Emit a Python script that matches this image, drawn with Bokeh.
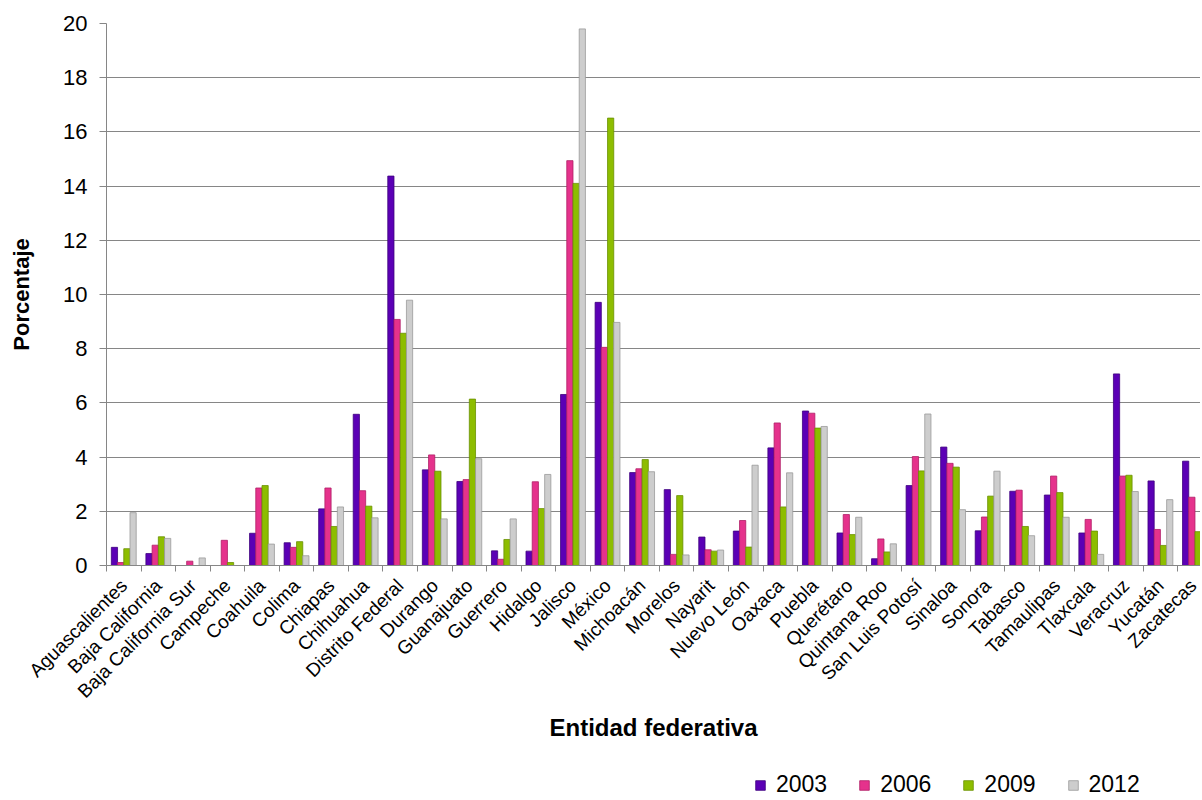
from bokeh.plotting import figure
from bokeh.layouts import column
from bokeh.models import Legend, LegendItem, FixedTicker, Range1d, ColumnDataSource
from bokeh.transform import dodge
from bokeh.embed import file_html
from bokeh.resources import INLINE

states = ["Aguascalientes", "Baja California", "Baja California Sur", "Campeche",
          "Coahuila", "Colima", "Chiapas", "Chihuahua", "Distrito Federal", "Durango",
          "Guanajuato", "Guerrero", "Hidalgo", "Jalisco", "México", "Michoacán",
          "Morelos", "Nayarit", "Nuevo León", "Oaxaca", "Puebla", "Querétaro",
          "Quintana Roo", "San Luis Potosí", "Sinaloa", "Sonora", "Tabasco",
          "Tamaulipas", "Tlaxcala", "Veracruz", "Yucatán", "Zacatecas"]

v2003 = [0.67, 0.44, 0.0, 0.0, 1.19, 0.84, 2.09, 5.58, 14.37, 3.53, 3.10, 0.54, 0.53,
         6.31, 9.71, 3.43, 2.80, 1.05, 1.27, 4.34, 5.70, 1.20, 0.25, 2.95, 4.37, 1.28,
         2.74, 2.60, 1.20, 7.07, 3.12, 3.85]
v2006 = [0.11, 0.75, 0.16, 0.93, 2.86, 0.67, 2.86, 2.76, 9.08, 4.08, 3.17, 0.23, 3.09,
         14.94, 8.05, 3.57, 0.41, 0.58, 1.66, 5.26, 5.62, 1.88, 0.98, 4.02, 3.77, 1.79,
         2.78, 3.30, 1.70, 3.30, 1.33, 2.52]
v2009 = [0.62, 1.06, 0.0, 0.11, 2.95, 0.88, 1.44, 2.19, 8.57, 3.48, 6.14, 0.96, 2.10,
         14.10, 16.51, 3.91, 2.58, 0.53, 0.68, 2.16, 5.07, 1.14, 0.50, 3.49, 3.63, 2.56,
         1.44, 2.69, 1.27, 3.33, 0.74, 1.25]
v2012 = [1.95, 1.00, 0.28, 0.0, 0.79, 0.36, 2.16, 1.76, 9.79, 1.72, 3.94, 1.72, 3.36,
         19.80, 8.97, 3.46, 0.39, 0.57, 3.70, 3.42, 5.13, 1.78, 0.80, 5.59, 2.06, 3.48,
         1.10, 1.78, 0.41, 2.73, 2.43, 1.25]

years = ["2003", "2006", "2009", "2012"]
y_ticks = [0, 2, 4, 6, 8, 10, 12, 14, 16, 18, 20]

fills = ["#5B00B5", "#E5328C", "#8DBD00", "#CDCDCD"]
edges = ["#3E007E", "#B01E66", "#6A9000", "#9A9A9A"]
offsets = [-0.27, -0.09, 0.09, 0.27]

xs = list(range(len(states)))
src = ColumnDataSource(dict(x=xs, y2003=v2003, y2006=v2006, y2009=v2009, y2012=v2012))

FONT = "Liberation Sans"
GRID = "#868686"

p = figure(width=1200, height=768, output_backend="svg", toolbar_location=None,
           x_range=Range1d(-0.5, 31.16), y_range=Range1d(0, 20),
           min_border_left=106, min_border_right=0, min_border_top=23,
           min_border_bottom=203)
p.outline_line_color = None
p.background_fill_color = "white"
p.border_fill_color = "white"

for yr, f, e, off in zip(years, fills, edges, offsets):
    p.vbar(x=dodge("x", off, range=p.x_range), top="y" + yr, width=0.18,
           bottom=0, source=src, fill_color=f, line_color=e, line_width=0.8)

# grid
p.xgrid.visible = False
p.ygrid.grid_line_color = GRID
p.ygrid.grid_line_width = 1
p.ygrid.ticker = FixedTicker(ticks=y_ticks)

# y axis
p.yaxis.ticker = FixedTicker(ticks=y_ticks)
p.yaxis.axis_line_color = GRID
p.yaxis.major_tick_line_color = GRID
p.yaxis.major_tick_out = 7
p.yaxis.major_tick_in = 0
p.yaxis.minor_tick_line_color = None
p.yaxis.major_label_standoff = 12
p.yaxis.major_label_text_font = FONT
p.yaxis.major_label_text_font_size = "22px"
p.yaxis.major_label_text_color = "black"
p.yaxis.axis_label = "Porcentaje"
p.yaxis.axis_label_text_font = FONT
p.yaxis.axis_label_text_font_size = "22px"
p.yaxis.axis_label_text_font_style = "bold"
p.yaxis.axis_label_text_color = "black"
p.yaxis.axis_label_standoff = 26

# x axis
p.xaxis.ticker = FixedTicker(ticks=xs, minor_ticks=[i - 0.5 for i in range(len(states) + 1)])
p.xaxis.major_label_overrides = {i: s for i, s in enumerate(states)}
p.xaxis.axis_line_color = GRID
p.xaxis.major_tick_line_color = None
p.xaxis.major_tick_out = 0
p.xaxis.major_tick_in = 0
p.xaxis.minor_tick_line_color = GRID
p.xaxis.minor_tick_out = 6
p.xaxis.minor_tick_in = 0
p.xaxis.major_label_orientation = 0.785398
p.xaxis.major_label_standoff = 11
p.xaxis.major_label_text_font = FONT
p.xaxis.major_label_text_font_size = "19px"
p.xaxis.major_label_text_color = "black"
p.xaxis.axis_label = "Entidad federativa"
p.xaxis.axis_label_text_font = FONT
p.xaxis.axis_label_text_font_size = "24px"
p.xaxis.axis_label_text_font_style = "bold"
p.xaxis.axis_label_text_color = "black"
p.xaxis.axis_label_standoff = 2

# legend strip (its markers lie outside its own y range, so only the legend shows)
lg = figure(width=1200, height=30, output_backend="svg", toolbar_location=None,
            x_range=Range1d(0, 1), y_range=Range1d(50, 51),
            x_axis_location=None, y_axis_location=None,
            min_border_left=0, min_border_right=0, min_border_top=0, min_border_bottom=0)
lg.outline_line_color = None
lg.grid.visible = False
lg_renderers = []
for yr, f, e in zip(years, fills, edges):
    r = lg.scatter(x="x", y="y" + yr, marker="square", size=9, source=src,
                   fill_color=f, line_color=e, line_width=0.8)
    lg_renderers.append(r)

# the column aligns this strip's frame with the main frame (left edge at 106 px)
legend = Legend(items=[LegendItem(label=yr, renderers=[r]) for yr, r in zip(years, lg_renderers)],
                orientation="horizontal", location=(642, 0),
                padding=0, margin=0, spacing=25, label_standoff=4,
                glyph_width=24, glyph_height=24,
                label_text_font=FONT, label_text_font_size="23px",
                label_text_color="black",
                border_line_color=None, background_fill_alpha=0)
lg.add_layout(legend, "center")

layout = column(p, lg, spacing=0)
open("out.html", "w").write(file_html(layout, INLINE))
